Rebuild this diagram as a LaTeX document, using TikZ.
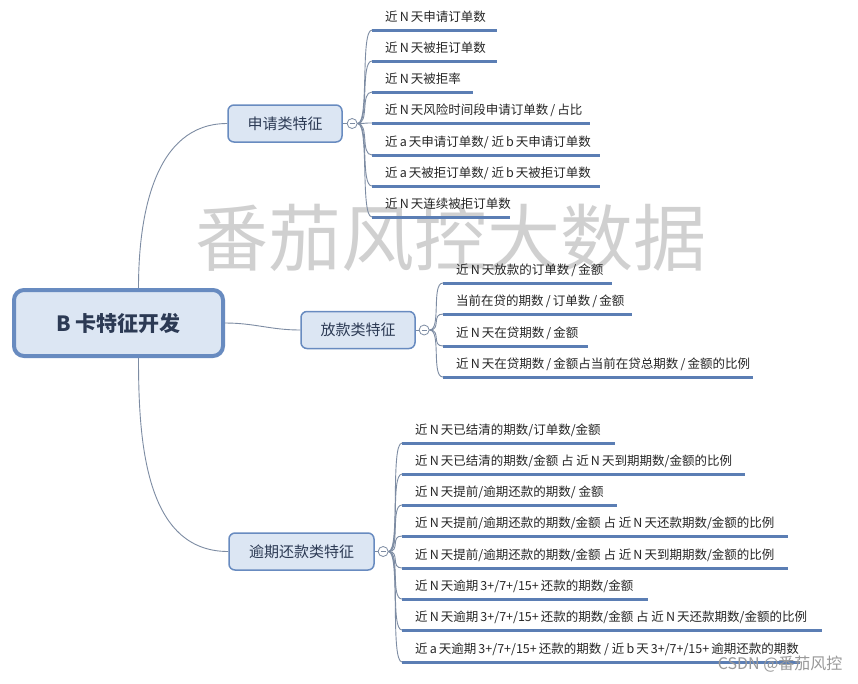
\documentclass[tikz,border=0pt]{standalone}
\usepackage{fontspec}
\setmainfont{Noto Sans CJK SC}
\usepackage{xcolor}
\usetikzlibrary{positioning}
\definecolor{boxblue}{RGB}{220,230,243}
\definecolor{edgeblue}{RGB}{104,139,192}
\definecolor{lineblue}{RGB}{91,126,180}
\definecolor{linkgray}{RGB}{125,140,163}
\definecolor{inkblue}{RGB}{44,58,84}
\definecolor{markgray}{RGB}{208,208,208}

\begin{document}
\begin{tikzpicture}[x=1pt, y=-1pt,
  root/.style={rectangle, rounded corners=10pt, draw=edgeblue, line width=4pt, fill=boxblue,
    minimum width=209pt, minimum height=66pt, font=\fontsize{21}{24}\selectfont\bfseries, text=inkblue},
  cat/.style={rectangle, rounded corners=6pt, draw=edgeblue, line width=1.5pt, fill=boxblue,
    minimum height=37pt, font=\fontsize{15}{18}\selectfont, text=inkblue},
  fold/.style={circle, draw=linkgray, fill=white, line width=0.8pt, inner sep=0pt, minimum size=10pt,
    path picture={\draw[linkgray, line width=0.7pt] ([xshift=-2.5pt]path picture bounding box.center) -- ([xshift=2.5pt]path picture bounding box.center);}},
  uline/.style={lineblue, line width=3pt},
  leaf/.style={anchor=south west, inner xsep=13pt, inner ysep=6pt, text height=9pt, text depth=2pt,
    font=\fontsize{12.5}{14}\selectfont, text=black!85,
    append after command={(\tikzlastnode.south west) edge[uline] ([xshift=#1pt]\tikzlastnode.south west)}},
  link/.style={linkgray, line width=0.9pt}]
\useasboundingbox[fill=white] (0,0) rectangle (858,683);
\node[font=\fontsize{73}{80}\selectfont, text=markgray] (wm) at (451,238) {番茄风控大数据};

\node[root] (root) at (118.5,323) {B\,卡特征开发};
\node[cat, minimum width=114pt] (sq) at (285,123.5) {申请类特征};
\node[cat, minimum width=114pt] (fk) at (358,330) {放款类特征};
\node[cat, minimum width=145pt] (yq) at (301.5,551.5) {逾期还款类特征};
\node[fold, right=4pt of sq] (sq-f) {};
\node[fold, right=3pt of fk] (fk-f) {};
\node[fold, right=3pt of yq] (yq-f) {};

% 申请类
\node[leaf=125] (sq1) at (372,30) {近\,N\,天申请订单数};
\node[leaf=125] (sq2) at (372,61) {近\,N\,天被拒订单数};
\node[leaf=101] (sq3) at (372,92) {近\,N\,天被拒率};
\node[leaf=218] (sq4) at (372,123) {近\,N\,天风险时间段申请订单数\,/\,占比};
\node[leaf=228] (sq5) at (372,155) {近\,a\,天申请订单数/ 近\,b\,天申请订单数};
\node[leaf=228] (sq6) at (372,186) {近\,a\,天被拒订单数/ 近\,b\,天被拒订单数};
\node[leaf=138] (sq7) at (372,217) {近\,N\,天连续被拒订单数};

% 放款类
\node[leaf=169] (fk1) at (443,283) {近\,N\,天放款的订单数\,/\,金额};
\node[leaf=189] (fk2) at (443,314) {当前在贷的期数\,/\,订单数\,/\,金额};
\node[leaf=145] (fk3) at (443,346) {近\,N\,天在贷期数\,/\,金额};
\node[leaf=310] (fk4) at (443,377) {近\,N\,天在贷期数\,/\,金额占当前在贷总期数\,/\,金额的比例};

% 逾期还款类
\node[leaf=213] (yq1) at (402,443) {近\,N\,天已结清的期数/订单数/金额};
\node[leaf=343] (yq2) at (402,474) {近\,N\,天已结清的期数/金额 占 近\,N\,天到期期数/金额的比例};
\node[leaf=215] (yq3) at (402,505) {近\,N\,天提前/逾期还款的期数/ 金额};
\node[leaf=386] (yq4) at (402,536) {近\,N\,天提前/逾期还款的期数/金额 占 近\,N\,天还款期数/金额的比例};
\node[leaf=386] (yq5) at (402,568) {近\,N\,天提前/逾期还款的期数/金额 占 近\,N\,天到期期数/金额的比例};
\node[leaf=246] (yq6) at (402,599) {近\,N\,天逾期\,3+/7+/15+\,还款的期数/金额};
\node[leaf=420] (yq7) at (402,630) {近\,N\,天逾期\,3+/7+/15+\,还款的期数/金额 占 近\,N\,天还款期数/金额的比例};
\node[leaf=398] (yq8) at (402,662) {近\,a\,天逾期\,3+/7+/15+\,还款的期数 / 近\,b\,天\,3+/7+/15+\,逾期还款的期数};

\draw[link] ([xshift=20pt]root.north) to[out=90, in=180] (sq.west);
\draw[link] (root.east) to[out=0, in=180] (fk.west);
\draw[link] ([xshift=20pt]root.south) to[out=-90, in=180] (yq.west);
\foreach \b in {sq,fk,yq} \draw[link] (\b.east) -- (\b-f.west);
\foreach \i in {1,...,7} \draw[link] (sq-f.east) .. controls +(12,0) and +(-12,0) .. (sq\i.south west);
\foreach \i in {1,...,4} \draw[link] (fk-f.east) .. controls +(12,0) and +(-12,0) .. (fk\i.south west);
\foreach \i in {1,...,8} \draw[link] (yq-f.east) .. controls +(12,0) and +(-12,0) .. (yq\i.south west);

\node[anchor=east, font=\fontsize{16}{18}\selectfont, text=black!40] (csdn) at (846,664) {CSDN @番茄风控};
\end{tikzpicture}
\end{document}
